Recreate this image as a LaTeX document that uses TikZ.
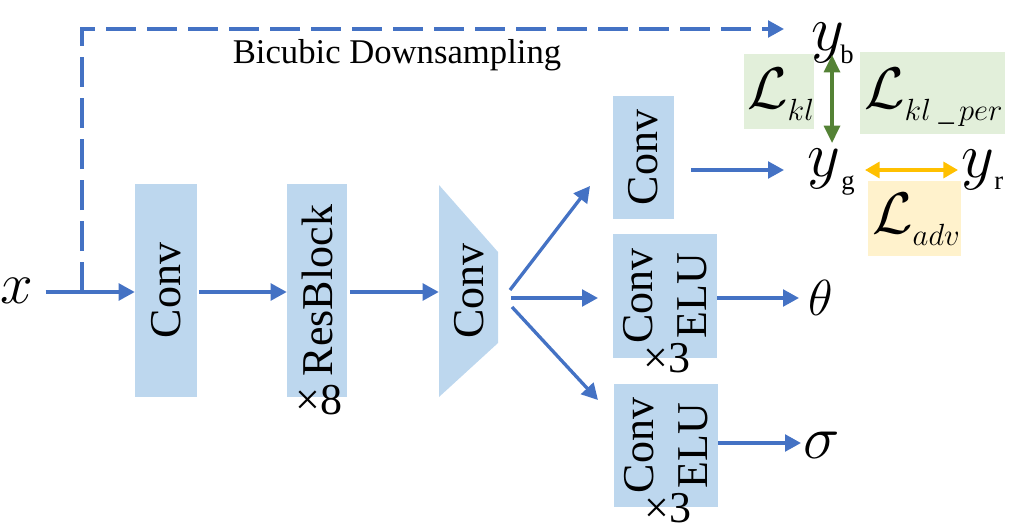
\RequirePackage{fix-cm}
\documentclass[tikz,border=0pt]{standalone}
\usepackage{amsmath}
\usepackage{fontspec}
\setmainfont{Liberation Serif}
\usetikzlibrary{arrows.meta,fit,calc}
\definecolor{boxblue}{HTML}{BDD7EE}
\definecolor{lineblue}{HTML}{4472C4}
\definecolor{dgreen}{HTML}{548235}
\definecolor{lgreen}{HTML}{E2EFDA}
\definecolor{orng}{HTML}{FFC000}
\definecolor{lorng}{HTML}{FFF2CC}
\newcommand{\lossL}[1]{$\mathcal{L}$\raisebox{-9pt}{\fontsize{23}{23}\selectfont$#1$}}
\begin{document}
\begin{tikzpicture}[x=0.75pt,y=-0.75pt,
  box/.style={fill=boxblue, draw=none, inner sep=0pt},
  lbl/.style={font=\fontsize{33}{40}\selectfont, rotate=90, align=center, inner sep=0pt},
  times/.style={font=\fontsize{33}{40}\selectfont, inner sep=0pt},
  arr/.style={draw=lineblue, line width=2.5pt, -{Triangle[length=12pt,width=12.5pt]}},
  dasharr/.style={arr, dash pattern=on 22.5pt off 8.25pt},
  ml/.style={inner sep=0pt, anchor=base},
  subs/.style={font=\fontsize{20}{20}\selectfont, inner sep=0pt, anchor=base west},
  lossbox/.style={draw=none, inner sep=0pt},
  lossfont/.style={font=\fontsize{44}{44}\selectfont, inner sep=0pt, anchor=base west}
]
\useasboundingbox (0,0) rectangle (1034,531);

% input
\node[ml, font=\fontsize{44}{44}\selectfont] (xin) at (17,303) {$x$};
\coordinate (br) at (82,292);

% boxes
\node[box, fit={(135,184)(197,397)}] (c1) {};
\node[lbl] at (c1.center) {Conv};
\node[box, fit={(287,184)(347,397)}] (c2) {};
\node[lbl] at (c2.center) {ResBlock};
\node[times] (x8) at (319,400) {×8};

\fill[boxblue] (439,185) -- (498,252) -- (498,343) -- (439,397) -- cycle;
\node[inner sep=0pt, fit={(439,185)(498,397)}] (c3) {};
\node[lbl] at (469,291) {Conv};

\node[box, fit={(613,96)(674,219)}] (c4) {};
\node[lbl] at (c4.center) {Conv};
\node[box, fit={(613,234)(717,358)}] (c5) {};
\node[lbl] at (c5.center) {Conv\\ELU};
\node[times] (x3a) at (667,358) {×3};
\node[box, fit={(614,384)(718,507)}] (c6) {};
\node[lbl] at (c6.center) {Conv\\ELU};
\node[times] (x3b) at (668,508) {×3};

% main chain
\draw[arr] ([xshift=9pt]xin.east |- br) -- (c1.west |- br);
\draw[arr] ([xshift=1.5pt]c1.east |- br) -- (c2.west |- br);
\draw[arr] ([xshift=2pt]c2.east |- br) -- (c3.west |- br);

% dashed bicubic
\coordinate (ybin) at (784,29);
\draw[dasharr] (br) |- (ybin);
\node[font=\fontsize{26}{26}\selectfont] (bd) at (397,55) {Bicubic Downsampling};

% fan
\coordinate (f1) at (510,290); \coordinate (t1) at (590,186);
\coordinate (f2) at (511,298); \coordinate (t2) at (598,298);
\coordinate (f3) at (512,307); \coordinate (t3) at (598,400);
\draw[arr] (f1) -- (t1);
\draw[arr] (f2) -- (t2);
\draw[arr] (f3) -- (t3);

% outputs
\node[ml, font=\fontsize{48}{48}\selectfont] (yb) at (828,51) {$y$};
\node[subs] (ybs) at (840,64) {b};
\node[ml, font=\fontsize{48}{48}\selectfont] (yg) at (824,176) {$y$};
\node[subs] (ygs) at (841,190) {g};
\node[ml, font=\fontsize{48}{48}\selectfont] (yr) at (978,177) {$y$};
\node[subs] (yrs) at (994,190) {r};

\coordinate (g0) at (691,170); \coordinate (ygin) at (784,170);
\draw[arr] (g0) -- (ygin);

\node[ml, font=\fontsize{38}{38}\selectfont] (th) at (821,315) {$\theta$};
\node[ml, font=\fontsize{46}{46}\selectfont] (sg) at (822,458) {$\sigma$};
\draw[arr] (c5.east |- 0,298) -- (799,298);
\draw[arr] (c6.east |- 0,443) -- (801,443);

% losses
\node[lossbox, fill=lgreen, fit={(744,54)(814,129)}] (lkl) {};
\node[lossfont] at (747,109) {\lossL{kl}};
\node[lossbox, fill=lgreen, fit={(860,52)(1005,134)}] (lklp) {};
\node[lossfont] at (864,109) {\lossL{kl\ \_\,per}};
\node[lossbox, fill=lorng, fit={(868,181)(961,256)}] (ladv) {};
\node[lossfont] at (872,233) {\lossL{adv}};

\coordinate (gb) at (832,55); \coordinate (gg) at (832,143);
\draw[draw=dgreen, line width=2.5pt, {Triangle[length=13pt,width=12pt]}-{Triangle[length=13pt,width=12pt]}] (gb) -- (gg);
\coordinate (o1) at (865,170); \coordinate (o2) at (958,170);
\draw[draw=orng, line width=2.5pt, {Triangle[length=11pt,width=12pt]}-{Triangle[length=11pt,width=12pt]}] (o1) -- (o2);
\end{tikzpicture}
\end{document}
